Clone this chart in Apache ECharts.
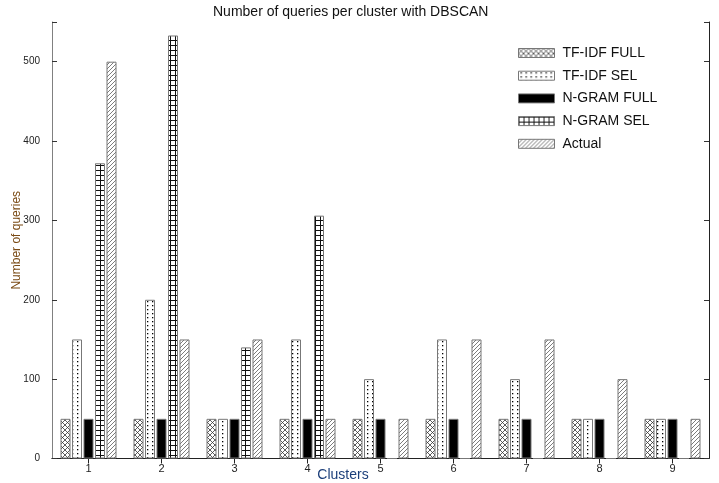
<!DOCTYPE html>
<html>
<head>
<meta charset="utf-8">
<script src="https://cdn.jsdelivr.net/npm/echarts@6/dist/echarts.min.js"></script>
<style>
  html, body { margin: 0; padding: 0; background: #fff; }
  #chart { width: 719px; height: 483px; }
</style>
</head>
<body>
<div id="chart"></div>
<script>
// Query counts per DBSCAN cluster for each representation
const clusters = ['1', '2', '3', '4', '5', '6', '7', '8', '9'];
const tfidfFull = [50, 50, 50, 50, 50, 50, 50, 50, 50];
const tfidfSel  = [150, 200, 50, 150, 100, 150, 100, 50, 50];
const ngramFull = [50, 50, 50, 50, 50, 50, 50, 50, 50];
const ngramSel  = [372, 533, 140, 306, 0, 0, 0, 0, 0];
const actual    = [500, 150, 150, 50, 50, 150, 150, 100, 50];
const seriesNames = ['TF-IDF FULL', 'TF-IDF SEL', 'N-GRAM FULL', 'N-GRAM SEL', 'Actual'];
const yTicks = [0, 100, 200, 300, 400, 500];

// Small repeating tiles used as bar fills
function tile(w, h, draw) {
  const c = document.createElement('canvas');
  c.width = w; c.height = h;
  const ctx = c.getContext('2d');
  ctx.fillStyle = '#fff';
  ctx.fillRect(0, 0, w, h);
  ctx.fillStyle = '#000';
  ctx.strokeStyle = '#000';
  ctx.lineWidth = 1;
  draw(ctx, w, h);
  return { image: c, repeat: 'repeat' };
}

const crossFill = tile(5, 5, (ctx, w, h) => {
  ctx.strokeStyle = '#333';
  ctx.lineWidth = 0.8;
  ctx.beginPath();
  ctx.moveTo(0, 0); ctx.lineTo(w, h);
  ctx.moveTo(w, 0); ctx.lineTo(0, h);
  ctx.stroke();
});
const dotFill = tile(5, 4, (ctx) => {
  ctx.fillRect(2, 1, 1.3, 1.3);
});
const gridFill = tile(5, 5, (ctx, w, h) => {
  ctx.fillStyle = '#111';
  ctx.fillRect(0, 0, w, 1);
  ctx.fillRect(0, 0, 1, h);
});
const hatchFill = tile(4, 4, (ctx, w, h) => {
  ctx.strokeStyle = '#444';
  ctx.lineWidth = 0.7;
  ctx.beginPath();
  ctx.moveTo(0, h); ctx.lineTo(w, 0);
  ctx.moveTo(-1, 1); ctx.lineTo(1, -1);
  ctx.moveTo(w - 1, h + 1); ctx.lineTo(w + 1, h - 1);
  ctx.stroke();
});

const fills = [crossFill, dotFill, '#000', gridFill, hatchFill];
const values = [tfidfFull, tfidfSel, ngramFull, ngramSel, actual];

const textFont = 'Liberation Sans, Arial, sans-serif';

const chart = echarts.init(document.getElementById('chart'), null, { renderer: 'canvas' });

chart.setOption({
  animation: false,
  backgroundColor: '#fff',
  title: {
    text: 'Number of queries per cluster with DBSCAN',
    left: 208,
    top: 0,
    textStyle: { fontFamily: textFont, fontSize: 14, fontWeight: 'normal', color: '#111' }
  },
  legend: {
    orient: 'vertical',
    left: 513,
    top: 41,
    itemWidth: 36,
    itemHeight: 9,
    itemGap: 8.7,
    itemStyle: { borderColor: '#777', borderWidth: 1 },
    textStyle: { fontFamily: textFont, fontSize: 14, color: '#111', lineHeight: 14, padding: [0, 0, 0, 3] },
    data: seriesNames.map(n => ({ name: n, icon: 'rect' }))
  },
  grid: { left: 52, right: 10, top: 22, bottom: 24.5, containLabel: false, outerBoundsMode: 'none' },
  xAxis: [
    {
      type: 'category',
      data: clusters,
      position: 'bottom',
      name: 'Clusters',
      nameLocation: 'middle',
      nameGap: 10,
      nameMoveOverlap: false,
      nameTextStyle: { fontFamily: textFont, fontSize: 14, color: '#1c3f7a', padding: [0, 75, 0, 0] },
      axisLine: { lineStyle: { color: '#666', width: 1 } },
      axisTick: { show: true, inside: true, length: 5, alignWithLabel: true, lineStyle: { color: '#333' } },
      axisLabel: { fontFamily: textFont, fontSize: 11, color: '#222', margin: 5 }
    },
    {
      type: 'category',
      data: clusters,
      position: 'top',
      axisLine: { lineStyle: { color: '#222', width: 1 } },
      axisTick: { show: true, inside: true, length: 5, alignWithLabel: true, lineStyle: { color: '#222' } },
      axisLabel: { show: false }
    }
  ],
  yAxis: [
    {
      type: 'value',
      min: 0,
      max: 550,
      interval: 100,
      position: 'left',
      name: 'Number of queries',
      nameLocation: 'middle',
      nameGap: 29,
      nameMoveOverlap: false,
      nameTextStyle: { fontFamily: textFont, fontSize: 12, color: '#7a4a14' },
      axisLine: { show: true, lineStyle: { color: '#808080', width: 1 } },
      axisTick: { show: true, inside: true, length: 5, lineStyle: { color: '#333' } },
      axisLabel: {
        fontFamily: textFont, fontSize: 10, color: '#222', margin: 12,
        formatter: v => (yTicks.includes(v) ? String(v) : '')
      },
      splitLine: { show: false }
    },
    {
      type: 'value',
      min: 0,
      max: 550,
      interval: 100,
      position: 'right',
      axisLine: { show: true, lineStyle: { color: '#222', width: 1 } },
      axisTick: { show: true, inside: true, length: 5, lineStyle: { color: '#333' } },
      axisLabel: { show: false },
      splitLine: { show: false }
    }
  ],
  series: seriesNames.map((name, i) => ({
    name: name,
    type: 'bar',
    xAxisIndex: 0,
    yAxisIndex: 0,
    data: values[i],
    barWidth: 10,
    barGap: '15%',
    itemStyle: { color: fills[i], borderColor: '#777', borderWidth: 1 },
    emphasis: { disabled: true }
  }))
});
</script>
</body>
</html>
